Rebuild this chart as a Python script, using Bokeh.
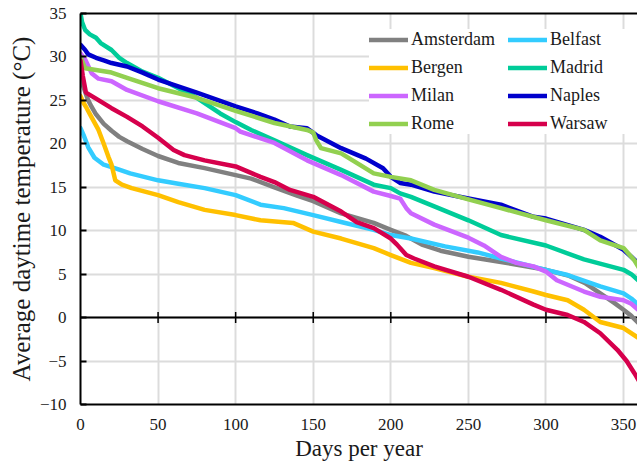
import math
from bokeh.plotting import figure
from bokeh.models import Range1d, LinearAxis, Span, Legend, LegendItem, FixedTicker
from bokeh.embed import file_html
from bokeh.resources import INLINE

x_ticks = [0, 50, 100, 150, 200, 250, 300, 350]
y_ticks = [-10, -5, 0, 5, 10, 15, 20, 25, 30, 35]
x_title = "Days per year"
y_title = "Average daytime temperature (°C)"

amsterdam_days = [0, 1, 3, 5, 7, 10, 15, 20, 25, 30, 40, 50, 63, 80, 100, 110, 125, 140, 150, 168, 189, 200, 210, 220, 232, 250, 271, 300, 315, 325, 335, 344, 350, 355, 360]
amsterdam_temp = [28.4, 27.0, 26.0, 25.0, 24.3, 23.4, 22.3, 21.5, 20.8, 20.3, 19.4, 18.6, 17.8, 17.2, 16.4, 16.0, 15.0, 14.0, 13.4, 12.0, 10.9, 10.1, 9.4, 8.4, 7.7, 7.0, 6.4, 5.5, 4.8, 4.0, 2.8, 1.7, 0.9, 0.2, -0.7]

belfast_days = [0, 2, 5, 9, 15, 24, 32, 50, 63, 80, 100, 116, 131, 150, 168, 189, 200, 213, 235, 256, 271, 300, 314, 335, 350, 355, 360]
belfast_temp = [21.8, 21.0, 19.6, 18.4, 17.6, 17.1, 16.6, 15.8, 15.4, 14.9, 14.1, 13.0, 12.6, 11.8, 11.0, 10.1, 9.5, 9.1, 8.2, 7.5, 6.8, 5.5, 4.9, 3.6, 2.8, 2.2, 1.4]

bergen_days = [0, 2, 4, 7, 11.6, 14.8, 18, 20, 22.4, 26.7, 33, 50, 63, 80, 100, 116, 137, 150, 168, 189, 200, 213, 228, 250, 271, 292, 300, 314, 324.5, 335, 350, 360]
bergen_temp = [25.5, 24.7, 24.1, 23.1, 21.6, 20.1, 18.5, 17.6, 15.8, 15.3, 14.9, 14.1, 13.3, 12.4, 11.8, 11.2, 10.9, 9.9, 9.1, 8.0, 7.2, 6.3, 5.7, 4.7, 4.0, 3.0, 2.6, 2.0, 0.9, -0.5, -1.2, -2.4]

madrid_days = [0, 1, 3, 6, 10, 13, 20, 25, 30, 40, 50, 75, 90, 100, 110, 125, 146, 168, 189, 200, 206, 213, 228, 250, 271, 300, 324.5, 350, 355, 360]
madrid_temp = [35.0, 34.0, 33.1, 32.6, 32.2, 31.6, 30.8, 29.9, 29.3, 28.3, 27.6, 25.3, 23.5, 22.5, 21.6, 20.4, 18.7, 17.0, 15.3, 14.9, 14.3, 13.9, 12.8, 11.2, 9.5, 8.3, 6.7, 5.5, 5.0, 4.2]

milan_days = [0, 3, 7.3, 11.6, 20, 30, 50, 75, 100, 103, 125, 146, 168, 189, 200, 206, 210, 213, 228, 250, 260, 271, 281, 292, 300, 307, 324.5, 335, 350, 355, 360]
milan_temp = [30.4, 29.7, 28.1, 27.5, 27.2, 26.2, 24.9, 23.5, 21.8, 21.4, 20.1, 18.1, 16.4, 14.5, 14.0, 13.7, 12.6, 12.0, 10.7, 9.2, 8.3, 7.0, 6.3, 5.9, 5.3, 4.3, 3.0, 2.4, 2.0, 1.6, 0.8]

naples_days = [0, 3, 5, 10, 15, 20, 30, 40, 50, 75, 100, 114, 125, 135, 146, 152, 168, 184, 195, 200, 206, 213, 228, 250, 271, 292, 300, 324.5, 335, 350, 355, 360]
naples_temp = [31.4, 30.8, 30.3, 29.9, 29.6, 29.3, 28.9, 28.2, 27.4, 25.9, 24.3, 23.5, 22.8, 22.0, 21.8, 21.0, 19.5, 18.3, 17.2, 16.2, 15.5, 15.3, 14.5, 13.7, 13.0, 11.6, 11.4, 10.1, 9.3, 7.8, 7.0, 6.2]

rome_days = [0, 3, 10, 20, 30, 50, 75, 100, 125, 146, 150, 152, 155, 168, 178, 189, 200, 213, 228, 250, 271, 300, 324.5, 335, 350, 357, 360]
rome_temp = [30.0, 28.7, 28.5, 28.2, 27.6, 26.4, 25.3, 23.8, 22.4, 21.6, 21.3, 20.4, 19.5, 18.9, 17.8, 16.6, 16.2, 15.8, 14.7, 13.6, 12.6, 11.2, 10.1, 8.9, 8.0, 6.6, 5.7]

warsaw_days = [0, 1.5, 3.5, 10, 20, 30, 40, 50, 60, 67, 80, 100, 116, 125, 135, 150, 168, 178, 189, 200, 204, 210, 215, 228, 250, 271, 292, 300, 314, 324.5, 335, 346, 352, 357, 360]
warsaw_temp = [29.6, 27.8, 25.9, 25.2, 24.1, 23.1, 22.0, 20.7, 19.3, 18.7, 18.1, 17.4, 16.2, 15.6, 14.7, 13.9, 12.2, 11.0, 10.3, 9.1, 8.4, 7.2, 6.8, 5.9, 4.7, 3.2, 1.5, 0.9, 0.3, -0.5, -1.8, -3.7, -5.0, -6.4, -7.3]

series = [
    ("Amsterdam", amsterdam_days, amsterdam_temp, "#808080"),
    ("Belfast", belfast_days, belfast_temp, "#33ccff"),
    ("Bergen", bergen_days, bergen_temp, "#ffc000"),
    ("Madrid", madrid_days, madrid_temp, "#00cc99"),
    ("Milan", milan_days, milan_temp, "#cc66ff"),
    ("Naples", naples_days, naples_temp, "#0000cc"),
    ("Rome", rome_days, rome_temp, "#92d050"),
    ("Warsaw", warsaw_days, warsaw_temp, "#d6004c"),
]

FONT = "Liberation Serif"
TXT = "#1a1a1a"

p = figure(width=637, height=463, output_backend="svg", toolbar_location=None,
           x_range=Range1d(0, 359), y_range=Range1d(-10, 35),
           min_border_left=80, min_border_right=0, min_border_top=13, min_border_bottom=59)
p.outline_line_color = None
p.background_fill_color = "white"
p.border_fill_color = "white"

for g in (p.xgrid, p.ygrid):
    g.grid_line_color = "#dcdcdc"
    g.grid_line_width = 2
p.xgrid.ticker = FixedTicker(ticks=x_ticks)
p.ygrid.ticker = FixedTicker(ticks=y_ticks)

yax = p.yaxis[0]
yax.ticker = FixedTicker(ticks=y_ticks)
yax.axis_line_color = "black"
yax.axis_line_width = 2
yax.major_tick_line_color = "black"
yax.major_tick_line_width = 2
yax.major_tick_in = 6
yax.major_tick_out = 0
yax.minor_tick_line_color = None
yax.major_label_text_font = FONT
yax.major_label_text_font_size = "17px"
yax.major_label_text_color = TXT
yax.major_label_standoff = 14
yax.axis_label = y_title
yax.axis_label_text_font = FONT
yax.axis_label_text_font_size = "25px"
yax.axis_label_text_font_style = "normal"
yax.axis_label_text_color = TXT
yax.axis_label_standoff = 2

xax = p.xaxis[0]
xax.ticker = FixedTicker(ticks=x_ticks)
xax.axis_line_color = "black"
xax.axis_line_width = 2
xax.major_tick_line_color = None
xax.minor_tick_line_color = None
xax.major_label_text_font = FONT
xax.major_label_text_font_size = "17px"
xax.major_label_text_color = TXT
xax.major_label_standoff = 8
xax.axis_label = x_title
xax.axis_label_text_font = FONT
xax.axis_label_text_font_size = "23px"
xax.axis_label_text_font_style = "normal"
xax.axis_label_text_color = TXT
xax.axis_label_standoff = 3

top = LinearAxis(ticker=FixedTicker(ticks=[]), axis_line_color="black", axis_line_width=2,
                 major_tick_line_color=None, minor_tick_line_color=None,
                 major_label_text_font_size="0px", major_label_standoff=0,
                 major_tick_in=0, major_tick_out=0)
p.add_layout(top, "above")

zero = Span(location=0, dimension="width", line_color="black", line_width=2, level="underlay")
p.add_layout(zero)
p.scatter(x=x_ticks[1:], y=[0] * (len(x_ticks) - 1), marker="dash", angle=math.pi / 2,
          size=11, line_color="black", line_width=1.5)

items = []
for name, d, t, c in series:
    r = p.line(d, t, line_color=c, line_width=4.5, line_cap="round", line_join="round")
    items.append(LegendItem(label=name, renderers=[r]))

legend = Legend(items=items, orientation="horizontal", ncols=2,
                location=(289, 270), padding=10, margin=0, spacing=7,
                glyph_width=39, glyph_height=21, label_standoff=3, label_width=90, label_height=21,
                label_text_font=FONT, label_text_font_size="18px", label_text_color=TXT,
                border_line_color=None, background_fill_color="white", background_fill_alpha=1.0)
p.add_layout(legend)

open("out.html", "w").write(file_html(p, INLINE))
